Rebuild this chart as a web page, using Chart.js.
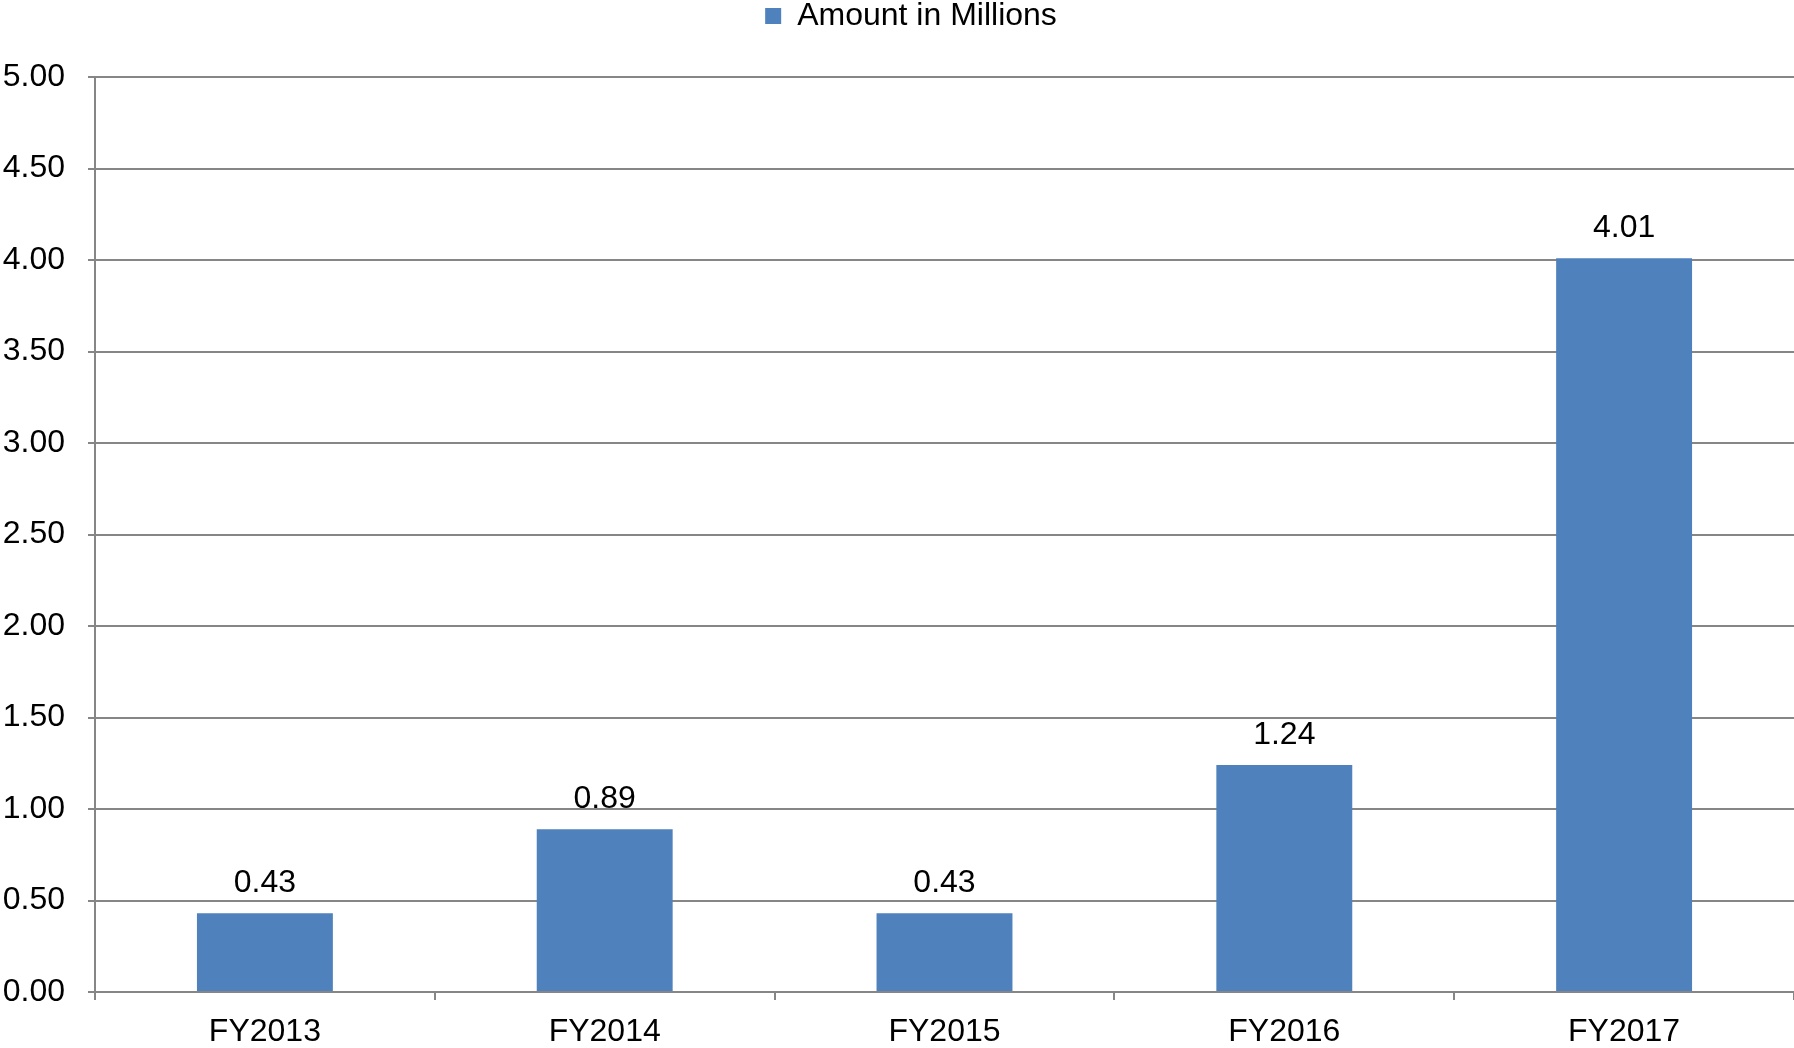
<!DOCTYPE html>
<html>
<head>
<meta charset="utf-8">
<script src="https://cdn.jsdelivr.net/npm/chart.js@4"></script>
<style>
html,body{margin:0;padding:0;background:#fff;}
#wrap{width:1794px;height:1048px;}
</style>
</head>
<body>
<div id="wrap"><canvas id="c" width="1794" height="1048"></canvas></div>
<script>
const categories = ["FY2013", "FY2014", "FY2015", "FY2016", "FY2017"];
const seriesName = "Amount in Millions";
const values = [0.43, 0.89, 0.43, 1.24, 4.01];
const yTicks = [0, 0.5, 1, 1.5, 2, 2.5, 3, 3.5, 4, 4.5, 5];

const FONT = "'Liberation Sans', Arial, sans-serif";
const FS = 32;
const GRID = "#868686";

const valueLabels = {
  id: "valueLabels",
  afterDatasetsDraw(chart) {
    const ctx = chart.ctx;
    const meta = chart.getDatasetMeta(0);
    ctx.save();
    ctx.font = FS + "px " + FONT;
    ctx.fillStyle = "#000";
    ctx.textAlign = "center";
    ctx.textBaseline = "alphabetic";
    meta.data.forEach((bar, i) => {
      ctx.fillText(values[i].toFixed(2), bar.x, bar.y - 21);
    });
    ctx.restore();
  }
};

const legendTweak = {
  id: "legendTweak",
  beforeInit(chart) {
    const lg = chart.legend;
    const origFit = lg.fit;
    lg.fit = function () {
      origFit.call(this);
      this.height = 77;
    };
  },
  afterLayout(chart) {
    const lg = chart.legend;
    lg.left += 14;
    lg.right += 14;
  }
};

new Chart(document.getElementById("c"), {
  type: "bar",
  data: {
    labels: categories,
    datasets: [{
      label: seriesName,
      data: values,
      backgroundColor: "#4F81BD",
      borderWidth: 0,
      barPercentage: 0.4,
      categoryPercentage: 1.0
    }]
  },
  options: {
    responsive: false,
    animation: false,
    devicePixelRatio: 1,
    layout: { padding: 0 },
    plugins: {
      legend: {
        display: true,
        position: "top",
        labels: {
          font: { family: FONT, size: FS },
          color: "#000",
          boxWidth: 16,
          boxHeight: 16,
          padding: 0
        }
      },
      tooltip: { enabled: false }
    },
    scales: {
      x: {
        grid: {
          display: true,
          drawOnChartArea: false,
          drawTicks: true,
          tickLength: 8,
          color: GRID,
          lineWidth: 2
        },
        border: { color: GRID, width: 2 },
        ticks: {
          font: { family: FONT, size: FS },
          color: "#000",
          padding: 13
        },
        afterFit(s) { s.height = 56; }
      },
      y: {
        min: 0,
        max: 5,
        afterBuildTicks(s) { s.ticks = yTicks.map(v => ({ value: v })); },
        grid: {
          color: GRID,
          lineWidth: 2,
          tickLength: 7
        },
        border: { color: GRID, width: 2 },
        ticks: {
          font: { family: FONT, size: FS },
          color: "#000",
          padding: 23,
          callback: v => Number(v).toFixed(2)
        },
        afterFit(s) { s.width = 95; }
      }
    }
  },
  plugins: [valueLabels, legendTweak]
});
</script>
</body>
</html>
